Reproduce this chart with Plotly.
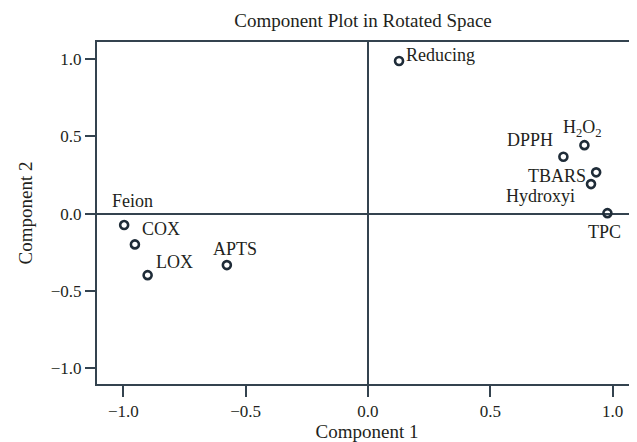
import plotly.graph_objects as go

# ---- data ----
variables = ["Reducing", "H<sub>2</sub>O<sub>2</sub>", "DPPH", "TBARS", "Hydroxyi", "TPC",
             "Feion", "COX", "LOX", "APTS"]
component1 = [0.127, 0.885, 0.799, 0.933, 0.912, 0.979, -0.997, -0.953, -0.901, -0.577]
component2 = [0.988, 0.444, 0.369, 0.268, 0.192, 0.004, -0.073, -0.198, -0.397, -0.332]

x_ticks = [-1.0, -0.5, 0.0, 0.5, 1.0]
x_tick_labels = ["\u22121.0", "\u22120.5", "0.0", "0.5", "1.0"]
y_ticks = [-1.0, -0.5, 0.0, 0.5, 1.0]
y_tick_labels = ["\u22121.0", "\u22120.5", "0.0", "0.5", "1.0"]

# label offsets in pixels (style only)
label_dx = [41, -2, -33, -39, -51, -3, 8, 26, 27, 8]
label_dy = [6, 17, 17, -4, -12, -19, 24, 15, 13, 16]

FONT = "Liberation Serif, Times New Roman, serif"
TEXT = "#231f20"
LINE = "#34434f"

# the page body adds an 8px offset, so the figure is 8px smaller
W, H = 629, 434

fig = go.Figure()
fig.add_trace(go.Scatter(
    x=component1, y=component2, mode="markers",
    marker=dict(symbol="circle-open", size=8, color="#1f2c38",
                line=dict(width=2.6, color="#1f2c38")),
    hoverinfo="skip", showlegend=False,
))

for name, xv, yv, dx, dy in zip(variables, component1, component2, label_dx, label_dy):
    fig.add_annotation(x=xv, y=yv, text=name, showarrow=False,
                       xshift=dx, yshift=dy, xanchor="center", yanchor="middle",
                       font=dict(family=FONT, size=18, color=TEXT))

fig.update_layout(
    width=W, height=H,
    margin=dict(l=89, r=0, t=34, b=58),
    paper_bgcolor="white", plot_bgcolor="white",
    font=dict(family=FONT, color=TEXT, size=17),
    title=dict(text="Component Plot in Rotated Space", x=355 / W, xref="container",
               xanchor="center", y=1 - 12.7 / H, yref="container", yanchor="middle",
               font=dict(family=FONT, size=19, color=TEXT)),
    xaxis=dict(range=[-1.108, 1.100], tickvals=x_ticks, ticktext=x_tick_labels,
               showgrid=False, zeroline=True, zerolinecolor=LINE, zerolinewidth=2,
               showline=True, linecolor=LINE, linewidth=2, mirror=True,
               ticks="outside", ticklen=11, tickwidth=2, tickcolor=LINE,
               tickfont=dict(family=FONT, size=17, color=TEXT),
               title=dict(text="Component 1", standoff=6,
                          font=dict(family=FONT, size=19, color=TEXT))),
    yaxis=dict(range=[-1.101, 1.111], tickvals=y_ticks, ticktext=y_tick_labels,
               showgrid=False, zeroline=True, zerolinecolor=LINE, zerolinewidth=2,
               showline=True, linecolor=LINE, linewidth=2, mirror=False,
               ticks="outside", ticklen=10, tickwidth=2, tickcolor=LINE,
               tickfont=dict(family=FONT, size=17, color=TEXT),
               title=dict(text="Component 2", standoff=13,
                          font=dict(family=FONT, size=19, color=TEXT))),
)

fig.write_html("out.html")
